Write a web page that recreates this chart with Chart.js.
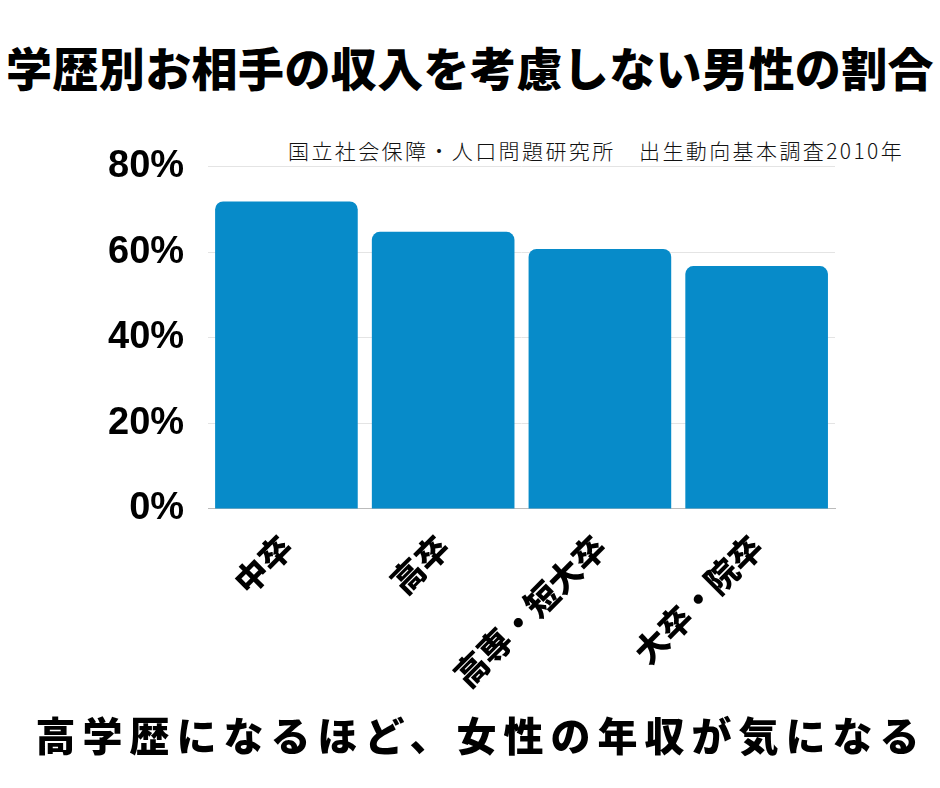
<!DOCTYPE html>
<html lang="ja">
<head>
<meta charset="utf-8">
<title>学歴別お相手の収入を考慮しない男性の割合</title>
<script src="https://cdn.jsdelivr.net/npm/chart.js@4.4.1/dist/chart.umd.min.js"></script>
<style>
  html, body { margin: 0; padding: 0; background: #fff; }
  body { width: 940px; height: 788px; position: relative; overflow: hidden;
         font-family: "Noto Sans CJK JP", "Noto Sans", sans-serif; }
  .title { position: absolute; left: 0; top: 43px; width: 940px; text-align: center;
           font-size: 46px; line-height: 46px; font-weight: 900; color: #000;
           letter-spacing: 0.4px; white-space: nowrap; }
  .source { position: absolute; left: 288px; top: 140px; font-size: 21px; line-height: 21px;
            letter-spacing: 2.4px; font-weight: 300; color: #111; white-space: nowrap; }
  .caption { position: absolute; left: 11px; top: 714px; width: 940px; text-align: center;
             font-size: 40px; line-height: 40px; font-weight: 900; color: #000;
             letter-spacing: 7px; white-space: nowrap; }
  #wrap { position: absolute; left: 0; top: 120px; width: 940px; height: 590px; }
</style>
</head>
<body>
<div class="title">学歴別お相手の収入を考慮しない男性の割合</div>
<div class="source">国立社会保障・人口問題研究所　出生動向基本調査2010年</div>
<div id="wrap"><canvas id="edu-chart"></canvas></div>
<div class="caption">高学歴になるほど、女性の年収が気になる</div>

<script>
  // Data
  const categories = ['中卒', '高卒', '高専・短大卒', '大卒・院卒'];
  const shareValues = [71.9, 64.8, 60.8, 56.8];
  const yTicks = [0, 20, 40, 60, 80];

  const ctx = document.getElementById('edu-chart').getContext('2d');

  new Chart(ctx, {
    type: 'bar',
    data: {
      labels: categories,
      datasets: [{
        label: '収入を考慮しない',
        data: shareValues,
        backgroundColor: '#078bc9',
        borderRadius: { topLeft: 8, topRight: 8, bottomLeft: 0, bottomRight: 0 },
        borderSkipped: 'bottom',
        barPercentage: 0.91,
        categoryPercentage: 1.0
      }]
    },
    options: {
      responsive: true,
      maintainAspectRatio: false,
      animation: false,
      layout: { padding: { left: 84, right: 105, top: 12, bottom: 5 } },
      scales: {
        y: {
          min: 0,
          max: 80,
          afterBuildTicks: function (axis) {
            axis.ticks = yTicks.map(v => ({ value: v }));
          },
          border: { display: false },
          grid: { color: '#e4e4e4', lineWidth: 1, drawTicks: false },
          ticks: {
            padding: 24,
            color: '#000',
            font: { family: 'Liberation Sans', size: 38, weight: 'bold' },
            callback: v => v + '%'
          }
        },
        x: {
          border: { display: true, color: '#bbbbbb' },
          grid: { display: false },
          ticks: {
            minRotation: 45,
            maxRotation: 45,
            padding: 10,
            color: '#000',
            font: { family: 'Noto Sans CJK JP', size: 33, weight: '900' }
          }
        }
      },
      plugins: {
        legend: { display: false },
        tooltip: { enabled: false }
      }
    }
  });
</script>
</body>
</html>
